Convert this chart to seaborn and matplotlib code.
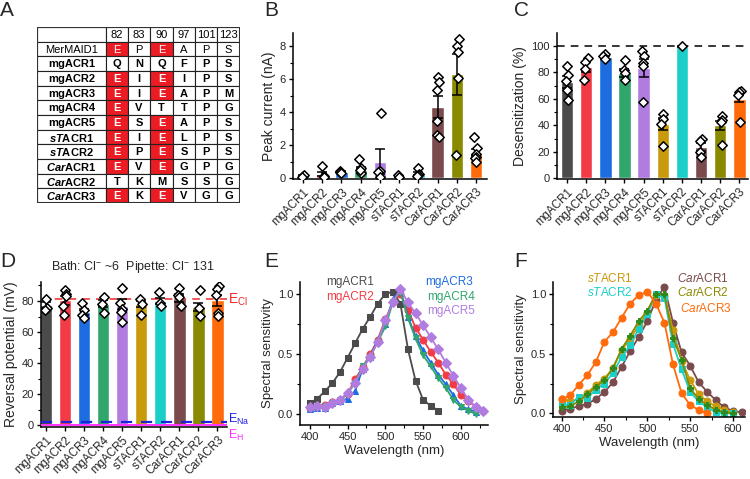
import numpy as np
import pandas as pd
import seaborn as sns
import matplotlib.pyplot as plt
from matplotlib.patches import Rectangle
from matplotlib.ticker import MultipleLocator

sns.set_theme(style="ticks")
plt.rcParams["font.family"] = ["Liberation Sans", "DejaVu Sans"]
plt.rcParams["mathtext.fontset"] = "custom"
plt.rcParams["mathtext.rm"] = "Liberation Sans"
plt.rcParams["mathtext.it"] = "Liberation Sans:italic"
plt.rcParams["mathtext.bf"] = "Liberation Sans:bold"
try:
    plt.rcParams["mathtext.bfit"] = "Liberation Sans:italic:bold"
except KeyError:
    pass

# ---------------- data ----------------
constructs = ["mgACR1", "mgACR2", "mgACR3", "mgACR4", "mgACR5",
              "sTACR1", "sTACR2", "CarACR1", "CarACR2", "CarACR3"]
bar_colors = ["#4b4b4b", "#f23b44", "#1d6de0", "#30a66c", "#b07ce0",
              "#c99a0b", "#1bcfc8", "#7a4a4c", "#8a8a00", "#ff6a0a"]

# panel A table
table_positions = ["82", "83", "90", "97", "101", "123"]
table_names = ["MerMAID1", "mgACR1", "mgACR2", "mgACR3", "mgACR4", "mgACR5",
               r"$\mathbfit{sT}$ACR1", r"$\mathbfit{sT}$ACR2",
               r"$\mathbfit{Car}$ACR1", r"$\mathbfit{Car}$ACR2", r"$\mathbfit{Car}$ACR3"]
table_residues = ["EPEAPS", "QNQFPS", "EIEIPS", "EIEAPM", "EVTTPG", "ESEAPS",
                  "EIELPS", "EPESPS", "EVEGPG", "TKMSSG", "EKEVGG"]

# panel B peak current (nA)
peak_mean = [0.18, 0.26, 0.38, 0.52, 1.0, 0.12, 0.28, 4.31, 6.3, 1.55]
peak_sem = [0.03, 0.14, 0.04, 0.18, 0.75, 0.03, 0.1, 0.67, 1.25, 0.22]
peak_pts = {
    "mgACR1": [0.15, 0.2, 0.1],
    "mgACR2": [0.75, 0.15, 0.1],
    "mgACR3": [0.45, 0.35, 0.4, 0.3],
    "mgACR4": [1.15, 0.6, 0.3, 0.5],
    "mgACR5": [3.95, 0.45, 0.35, 0.1],
    "sTACR1": [0.2, 0.1],
    "sTACR2": [0.6, 0.25, 0.2, 0.15],
    "CarACR1": [6.15, 5.85, 5.35, 3.45, 2.6, 2.5],
    "CarACR2": [8.45, 8.0, 7.65, 6.05, 1.4],
    "CarACR3": [2.5, 1.85, 1.45, 1.3, 1.2, 1.0],
}

# panel C desensitization (%)
desens_mean = [72.5, 83.9, 91.4, 79.3, 83.1, 40.8, 99.5, 23.7, 40.0, 60.2]
desens_sem = [4.5, 3.5, 1.2, 3.0, 7.0, 4.5, 0.2, 3.0, 3.5, 3.0]
desens_pts = {
    "mgACR1": [84.9, 78.0, 73.5, 66.7, 59.0],
    "mgACR2": [90.7, 87.4, 82.4, 74.3],
    "mgACR3": [93.7, 91.9, 89.9],
    "mgACR4": [88.9, 81.9, 79.3, 73.8],
    "mgACR5": [95.7, 92.4, 86.9, 84.4, 57.2],
    "sTACR1": [48.4, 44.8, 41.0, 24.4],
    "sTACR2": [99.7],
    "CarACR1": [29.7, 28.4, 20.1, 16.3],
    "CarACR2": [47.3, 44.1, 42.8, 25.2],
    "CarACR3": [66.2, 65.0, 62.7, 42.8],
}

# panel D reversal potential (mV)
erev_mean = [77.4, 80.4, 72.9, 78.3, 77.0, 77.9, 79.8, 81.7, 76.1, 80.4]
erev_sem = [2.0, 3.0, 2.0, 2.5, 4.0, 2.0, 2.0, 2.5, 2.5, 3.5]
erev_pts = {
    "mgACR1": [81.1, 75.7, 74.0],
    "mgACR2": [87.3, 84.7, 83.0, 76.6, 71.2],
    "mgACR3": [78.9, 74.4, 71.2, 69.3],
    "mgACR4": [82.6, 78.3, 72.5],
    "mgACR5": [88.4, 79.0, 75.1, 72.9, 66.3],
    "sTACR1": [81.1, 78.3, 71.2],
    "sTACR2": [85.6, 79.0, 76.6],
    "CarACR1": [88.4, 84.1, 82.6, 76.6],
    "CarACR2": [87.3, 75.7, 70.3],
    "CarACR3": [89.4, 87.9, 83.6, 72.5, 70.3],
}
e_cl, e_na, e_h = 81, 2, 0

# panel E spectra
wl_mg1 = list(range(400, 571, 10))
sens_mg1 = [0.09, 0.13, 0.19, 0.26, 0.35, 0.47, 0.59, 0.71, 0.81, 0.92, 1.00, 1.02,
            0.92, 0.54, 0.28, 0.12, 0.07, 0.03]
wl_mg2 = list(range(400, 631, 10))
sens_mg2 = [0.05, 0.07, 0.08, 0.10, 0.12, 0.17, 0.29, 0.39, 0.50, 0.62, 0.79, 0.93,
            1.00, 0.87, 0.72, 0.62, 0.52, 0.43, 0.33, 0.25, 0.16, 0.11, 0.06, 0.03]
wl_mg3 = list(range(400, 621, 10))
sens_mg3 = [0.04, 0.05, 0.05, 0.09, 0.11, 0.13, 0.19, 0.38, 0.48, 0.62, 0.75, 0.96,
            1.03, 0.81, 0.65, 0.53, 0.43, 0.33, 0.25, 0.16, 0.07, 0.04, 0.02]
wl_mg4 = list(range(400, 621, 10))
sens_mg4 = [0.05, 0.06, 0.07, 0.09, 0.12, 0.17, 0.26, 0.40, 0.48, 0.60, 0.73, 0.93,
            1.02, 0.80, 0.63, 0.49, 0.40, 0.30, 0.22, 0.12, 0.06, 0.03, 0.00]
wl_mg5 = list(range(400, 631, 10))
sens_mg5 = [0.06, 0.07, 0.06, 0.09, 0.12, 0.18, 0.26, 0.38, 0.48, 0.60, 0.78, 0.93,
            1.04, 0.93, 0.84, 0.74, 0.64, 0.54, 0.43, 0.32, 0.22, 0.12, 0.06, 0.03]

# panel F spectra
wl_st1 = list(range(400, 601, 10))
sens_st1 = [0.12, 0.10, 0.12, 0.17, 0.24, 0.29, 0.38, 0.53, 0.62, 0.74, 0.84, 0.99,
            0.98, 0.70, 0.44, 0.28, 0.16, 0.10, 0.06, 0.03, 0.01]
wl_st2 = list(range(400, 601, 10))
sens_st2 = [0.08, 0.07, 0.14, 0.13, 0.20, 0.25, 0.34, 0.47, 0.57, 0.71, 0.83, 1.00,
            0.97, 0.58, 0.37, 0.18, 0.10, 0.05, 0.01, 0.00, 0.00]
wl_car1 = list(range(400, 611, 10))
sens_car1 = [0.02, 0.04, 0.06, 0.08, 0.12, 0.18, 0.26, 0.39, 0.52, 0.64, 0.77, 0.95,
             1.06, 0.76, 0.51, 0.40, 0.26, 0.18, 0.11, 0.05, 0.02, 0.01]
wl_car2 = list(range(400, 601, 10))
sens_car2 = [0.05, 0.06, 0.10, 0.16, 0.22, 0.28, 0.38, 0.54, 0.65, 0.77, 0.86, 1.00,
             1.00, 0.63, 0.45, 0.21, 0.12, 0.07, 0.03, 0.01, 0.00]
wl_car3 = list(range(400, 571, 10))
sens_car3 = [0.12, 0.15, 0.24, 0.32, 0.43, 0.60, 0.68, 0.80, 0.92, 0.99, 1.02, 0.92,
             0.76, 0.41, 0.17, 0.07, 0.03, 0.00]

# ---------------- figure ----------------
W, H = 750, 479
fig = plt.figure(figsize=(7.5, 4.79), dpi=100)


def px_axes(left, top, right, bottom):
    return fig.add_axes([left / W, 1 - bottom / H, (right - left) / W, (bottom - top) / H])


def px_text(x, y, s, **kw):
    fig.text(x / W, 1 - y / H, s, **kw)


def style_axes(ax):
    sns.despine(ax=ax)
    for sp in ("left", "bottom"):
        ax.spines[sp].set_linewidth(1.1)
        ax.spines[sp].set_color("black")
    ax.tick_params(which="major", direction="out", length=3, width=1, labelsize=8,
                   color="black", pad=2)
    ax.tick_params(which="minor", direction="out", length=2, width=0.8, color="black")
    ax.set_facecolor("none")


for lbl, x, y in [("A", 0, 1), ("B", 264, 1), ("C", 514, 1),
                  ("D", 0, 252), ("E", 264, 252), ("F", 514, 252)]:
    px_text(x, y, lbl, fontsize=15, va="top", ha="left")

# ---- A: table ----
axA = px_axes(37, 27, 240, 203)
col_edges = [0, 69, 91, 113, 136, 158, 180, 203]
axA.set_xlim(0, 203)
axA.set_ylim(12, 0)
axA.axis("off")
for r in range(12):
    for c in range(7):
        x0, x1 = col_edges[c], col_edges[c + 1]
        face = "white"
        txt, color, weight = "", "black", "normal"
        if r == 0 and c > 0:
            txt = table_positions[c - 1]
        elif r > 0:
            weight = "normal" if r == 1 else "bold"
            if c == 0:
                txt = table_names[r - 1]
            else:
                txt = table_residues[r - 1][c - 1]
                if txt == "E":
                    face, color = "#ec1c24", "white"
        axA.add_patch(Rectangle((x0, r), x1 - x0, 1, facecolor=face,
                                edgecolor="#222222", linewidth=0.8))
        if txt:
            axA.text((x0 + x1) / 2, r + 0.55, txt, ha="center", va="center",
                     fontsize=8, color=color, fontweight=weight)
axA.add_patch(Rectangle((0, 0), 203, 12, facecolor="none", edgecolor="#333333",
                        linewidth=1.5))


def bar_panel(ax, means, sems, pts):
    sns.barplot(x=constructs, y=means, hue=constructs, palette=bar_colors,
                saturation=1, width=0.65, legend=False, errorbar=None, ax=ax)
    ax.errorbar(np.arange(len(constructs)), means, yerr=sems, fmt="none",
                ecolor="black", elinewidth=1.1, capsize=3.5, capthick=1.1, zorder=4)
    pts_df = pd.DataFrame([(k, v) for k, vals in pts.items() for v in vals],
                          columns=["construct", "value"])
    np.random.seed(3)
    sns.stripplot(data=pts_df, x="construct", y="value", order=constructs,
                  marker="D", color="white", edgecolor="black", linewidth=1.1,
                  size=4.8, jitter=0.1, ax=ax, zorder=5)
    style_axes(ax)
    ax.set_xticks(range(len(constructs)))
    ax.set_xticklabels(constructs, rotation=45, ha="right", rotation_mode="anchor",
                       fontsize=8.3)
    ax.set_xlabel("")


# ---- B ----
axB = px_axes(293, 33, 487, 179)
bar_panel(axB, peak_mean, peak_sem, peak_pts)
axB.set_xlim(-0.52, 9.57)
axB.set_ylim(-0.05, 8.8)
axB.yaxis.set_major_locator(MultipleLocator(2))
axB.yaxis.set_minor_locator(MultipleLocator(1))
axB.set_ylabel("Peak current (nA)", fontsize=10, labelpad=3)

# ---- C ----
axC = px_axes(557, 33, 748, 179)
bar_panel(axC, desens_mean, desens_sem, desens_pts)
axC.axhline(100, color="black", linestyle=(0, (5, 4)), linewidth=1.1, zorder=3)
axC.set_xlim(-0.52, 9.45)
axC.set_ylim(-0.5, 109.6)
axC.yaxis.set_major_locator(MultipleLocator(20))
axC.yaxis.set_minor_locator(MultipleLocator(10))
axC.set_ylabel("Desensitization (%)", fontsize=10, labelpad=3)

# ---- D ----
axD = px_axes(41, 282, 227, 427)
bar_panel(axD, erev_mean, erev_sem, erev_pts)
axD.axhline(e_cl, color="#ee2a2a", linestyle=(0, (5, 4)), linewidth=1.1, zorder=3)
axD.axhline(e_na, color="#1f1fe0", linestyle=(0, (5, 4)), linewidth=1.6, zorder=6)
axD.axhline(e_h, color="#ff33ff", linestyle="-", linewidth=1.4, zorder=6)
axD.set_xlim(-0.25, 9.5)
axD.set_ylim(-1.1, 92.2)
axD.yaxis.set_major_locator(MultipleLocator(20))
axD.yaxis.set_minor_locator(MultipleLocator(10))
axD.set_ylabel("Reversal potential (mV)", fontsize=10, labelpad=3)
ytr = axD.get_yaxis_transform()
axD.text(1.005, e_cl, r"E$_{\mathregular{Cl}}$", transform=ytr,
         color="#ee2a2a", fontsize=10, va="center", ha="left", clip_on=False)
axD.text(1.005, e_na + 1.5, r"E$_{\mathregular{Na}}$", transform=ytr,
         color="#1f1fe0", fontsize=9, va="center", ha="left", clip_on=False)
axD.text(1.005, e_h - 6.5, r"E$_{\mathregular{H}}$", transform=ytr,
         color="#ff33ff", fontsize=9, va="center", ha="left", clip_on=False)
px_text(133, 267, r"Bath: Cl$^{-}$ ~6  Pipette: Cl$^{-}$ 131", fontsize=9,
        ha="center", va="center")


def spectra_panel(ax, series):
    for wl, sens, color, marker, mfc in series:
        sns.lineplot(x=wl, y=sens, color=color, marker=marker, markersize=5,
                     markerfacecolor=mfc, markeredgecolor=mfc, linewidth=1.3,
                     ax=ax)
    style_axes(ax)
    ax.xaxis.set_major_locator(MultipleLocator(50))
    ax.xaxis.set_minor_locator(MultipleLocator(25))
    ax.yaxis.set_major_locator(MultipleLocator(0.5))
    ax.yaxis.set_minor_locator(MultipleLocator(0.25))
    ax.yaxis.set_major_formatter(plt.FormatStrFormatter("%.1f"))
    ax.set_xlabel("Wavelength (nm)", fontsize=9.5, labelpad=2)
    ax.set_ylabel("Spectral sensitivity", fontsize=9.5, labelpad=3)


# ---- E ----
axE = px_axes(300, 282, 488, 425)
spectra_panel(axE, [
    (wl_mg1, sens_mg1, "#4b4b4b", "s", "#4b4b4b"),
    (wl_mg2, sens_mg2, "#f23b44", "o", "#f23b44"),
    (wl_mg3, sens_mg3, "#1d6de0", "^", "#1d6de0"),
    (wl_mg4, sens_mg4, "#30a66c", "v", "#30a66c"),
    (wl_mg5, sens_mg5, "#b07ce0", "D", "#b07ce0"),
])
axE.set_xlim(387, 636)
axE.set_ylim(-0.09, 1.1)
for txt, x, y, c in [("mgACR1", 326, 282, "#4b4b4b"), ("mgACR2", 326, 297, "#f23b44"),
                     ("mgACR3", 425, 282, "#1d6de0"), ("mgACR4", 427, 297, "#30a66c"),
                     ("mgACR5", 427, 311, "#b07ce0")]:
    px_text(x, y, txt, color=c, fontsize=8.5, ha="left", va="center")

# ---- F ----
axF = px_axes(553, 282, 745, 417)
spectra_panel(axF, [
    (wl_car1, sens_car1, "#7a4a4c", "o", "#7a4a4c"),
    (wl_st1, sens_st1, "#c99a0b", "o", "#c99a0b"),
    (wl_st2, sens_st2, "#1bcfc8", "s", "#1bcfc8"),
    (wl_car2, sens_car2, "#8a8a00", "P", "#2f8a1e"),
    (wl_car3, sens_car3, "#ff6a0a", "o", "#ff6a0a"),
])
axF.set_xlim(390, 614)
axF.set_ylim(-0.03, 1.1)
for txt, x, y, c in [(r"$\mathit{sT}$ACR1", 587, 278, "#c99a0b"),
                     (r"$\mathit{sT}$ACR2", 587, 293, "#1bcfc8"),
                     (r"$\mathit{Car}$ACR1", 677, 278, "#7a4a4c"),
                     (r"$\mathit{Car}$ACR2", 677, 293, "#8a8a00"),
                     (r"$\mathit{Car}$ACR3", 680, 308, "#ff6a0a")]:
    px_text(x, y, txt, color=c, fontsize=8.5, ha="left", va="center")

fig.savefig("out.png", dpi=100)
